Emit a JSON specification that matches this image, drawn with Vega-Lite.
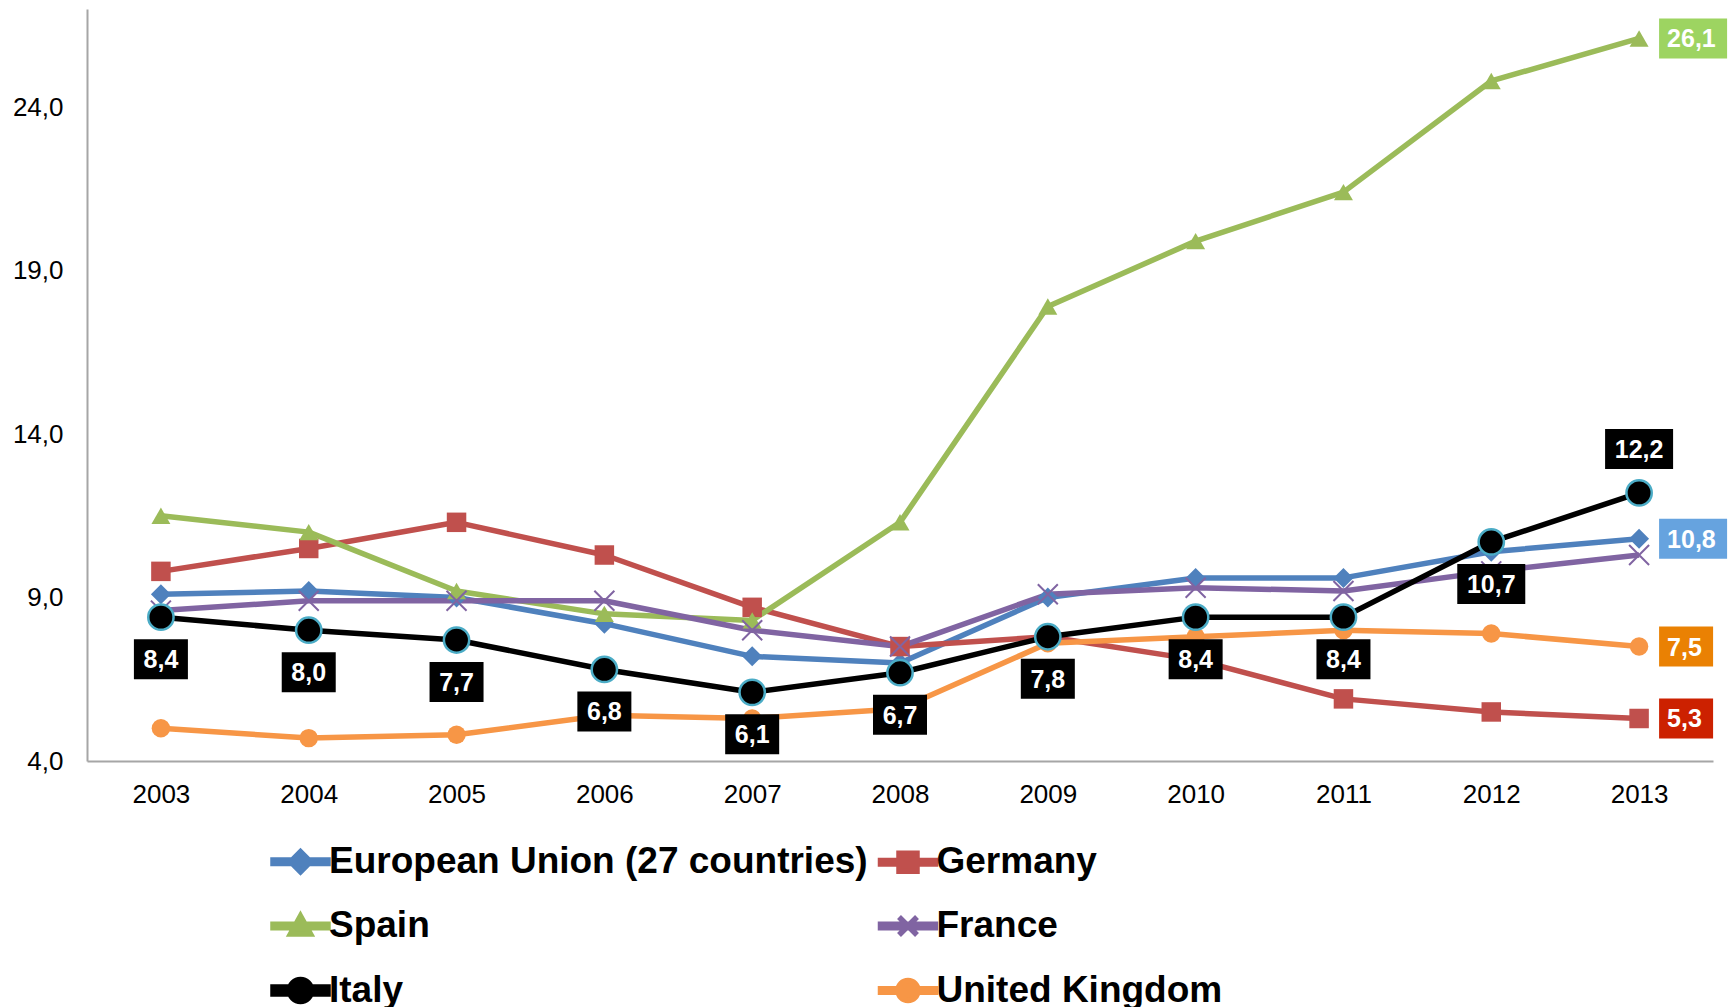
{
  "$schema": "https://vega.github.io/schema/vega-lite/v6.json",
  "width": 1626,
  "height": 752,
  "autosize": "none",
  "padding": {"left": 87, "top": 9, "right": 21, "bottom": 246},
  "config": {
    "locale": {"number": {"decimal": ",", "thousands": ".", "grouping": [3], "currency": ["", " €"]}},
    "view": {"stroke": null},
    "font": "Liberation Sans"
  },
  "data": {"values": [
    {"series": "European Union (27 countries)", "year": "2003", "value": 9.1},
    {"series": "European Union (27 countries)", "year": "2004", "value": 9.2},
    {"series": "European Union (27 countries)", "year": "2005", "value": 9.0},
    {"series": "European Union (27 countries)", "year": "2006", "value": 8.2},
    {"series": "European Union (27 countries)", "year": "2007", "value": 7.2},
    {"series": "European Union (27 countries)", "year": "2008", "value": 7.0},
    {"series": "European Union (27 countries)", "year": "2009", "value": 9.0},
    {"series": "European Union (27 countries)", "year": "2010", "value": 9.6},
    {"series": "European Union (27 countries)", "year": "2011", "value": 9.6},
    {"series": "European Union (27 countries)", "year": "2012", "value": 10.4},
    {"series": "European Union (27 countries)", "year": "2013", "value": 10.8},
    {"series": "Germany", "year": "2003", "value": 9.8},
    {"series": "Germany", "year": "2004", "value": 10.5},
    {"series": "Germany", "year": "2005", "value": 11.3},
    {"series": "Germany", "year": "2006", "value": 10.3},
    {"series": "Germany", "year": "2007", "value": 8.7},
    {"series": "Germany", "year": "2008", "value": 7.5},
    {"series": "Germany", "year": "2009", "value": 7.8},
    {"series": "Germany", "year": "2010", "value": 7.1},
    {"series": "Germany", "year": "2011", "value": 5.9},
    {"series": "Germany", "year": "2012", "value": 5.5},
    {"series": "Germany", "year": "2013", "value": 5.3},
    {"series": "Spain", "year": "2003", "value": 11.5},
    {"series": "Spain", "year": "2004", "value": 11.0},
    {"series": "Spain", "year": "2005", "value": 9.2},
    {"series": "Spain", "year": "2006", "value": 8.5},
    {"series": "Spain", "year": "2007", "value": 8.3},
    {"series": "Spain", "year": "2008", "value": 11.3},
    {"series": "Spain", "year": "2009", "value": 17.9},
    {"series": "Spain", "year": "2010", "value": 19.9},
    {"series": "Spain", "year": "2011", "value": 21.4},
    {"series": "Spain", "year": "2012", "value": 24.8},
    {"series": "Spain", "year": "2013", "value": 26.1},
    {"series": "France", "year": "2003", "value": 8.6},
    {"series": "France", "year": "2004", "value": 8.9},
    {"series": "France", "year": "2005", "value": 8.9},
    {"series": "France", "year": "2006", "value": 8.9},
    {"series": "France", "year": "2007", "value": 8.0},
    {"series": "France", "year": "2008", "value": 7.5},
    {"series": "France", "year": "2009", "value": 9.1},
    {"series": "France", "year": "2010", "value": 9.3},
    {"series": "France", "year": "2011", "value": 9.2},
    {"series": "France", "year": "2012", "value": 9.8},
    {"series": "France", "year": "2013", "value": 10.3},
    {"series": "Italy", "year": "2003", "value": 8.4},
    {"series": "Italy", "year": "2004", "value": 8.0},
    {"series": "Italy", "year": "2005", "value": 7.7},
    {"series": "Italy", "year": "2006", "value": 6.8},
    {"series": "Italy", "year": "2007", "value": 6.1},
    {"series": "Italy", "year": "2008", "value": 6.7},
    {"series": "Italy", "year": "2009", "value": 7.8},
    {"series": "Italy", "year": "2010", "value": 8.4},
    {"series": "Italy", "year": "2011", "value": 8.4},
    {"series": "Italy", "year": "2012", "value": 10.7},
    {"series": "Italy", "year": "2013", "value": 12.2},
    {"series": "United Kingdom", "year": "2003", "value": 5.0},
    {"series": "United Kingdom", "year": "2004", "value": 4.7},
    {"series": "United Kingdom", "year": "2005", "value": 4.8},
    {"series": "United Kingdom", "year": "2006", "value": 5.4},
    {"series": "United Kingdom", "year": "2007", "value": 5.3},
    {"series": "United Kingdom", "year": "2008", "value": 5.6},
    {"series": "United Kingdom", "year": "2009", "value": 7.6},
    {"series": "United Kingdom", "year": "2010", "value": 7.8},
    {"series": "United Kingdom", "year": "2011", "value": 8.0},
    {"series": "United Kingdom", "year": "2012", "value": 7.9},
    {"series": "United Kingdom", "year": "2013", "value": 7.5}
  ]},
  "encoding": {
    "x": {"field": "year", "type": "ordinal", "title": null,
      "axis": {"labelAngle": 0, "ticks": false, "tickSize": 0, "grid": false, "domainColor": "#A6A6A6", "domainWidth": 2,
        "labelFont": "Liberation Sans", "labelFontSize": 26, "labelColor": "#000000", "labelPadding": 20}},
    "y": {"field": "value", "type": "quantitative", "title": null,
      "scale": {"domain": [4, 27], "nice": false, "zero": false},
      "axis": {"values": [4, 9, 14, 19, 24], "format": ".1f", "ticks": false, "tickSize": 0, "grid": false,
        "domainColor": "#A6A6A6", "domainWidth": 2, "labelFont": "Liberation Sans", "labelFontSize": 26,
        "labelColor": "#000000", "labelPadding": 24}}
  },
  "layer": [
    {
      "mark": {"type": "line", "strokeJoin": "round"},
      "encoding": {
        "color": {"field": "series", "type": "nominal",
          "scale": {"domain": ["European Union (27 countries)", "Germany", "Spain", "France", "Italy", "United Kingdom"],
                    "range": ["#4F81BD", "#C0504D", "#9BBB59", "#8064A2", "#000000", "#F79646"]},
          "legend": {
            "orient": "none", "legendX": 195, "legendY": 834, "title": null, "columns": 2, "direction": "horizontal",
            "symbolSize": 400, "labelFont": "Liberation Sans", "labelFontSize": 37, "labelFontWeight": "bold",
            "labelColor": "#000000", "labelOffset": 10, "labelLimit": 2000, "rowPadding": 21.5, "columnPadding": 1.5, "padding": 0,
            "encode": {"symbols": {"update": {
              "shape": {"signal": "datum.value === 'European Union (27 countries)' ? 'M-2.75,-0.18L2.75,-0.18L2.75,0.18L-2.75,0.18ZM0,-1L1,0L0,1L-1,0Z' : datum.value === 'Germany' ? 'M-2.75,-0.18L2.75,-0.18L2.75,0.18L-2.75,0.18ZM-0.9,-0.9L0.9,-0.9L0.9,0.9L-0.9,0.9Z' : datum.value === 'Spain' ? 'M-2.75,-0.18L2.75,-0.18L2.75,0.18L-2.75,0.18ZM0,-1L1,0.8L-1,0.8Z' : datum.value === 'France' ? 'M-2.75,-0.18L2.75,-0.18L2.75,0.18L-2.75,0.18ZM-0.9,-0.9L0.9,0.9M0.9,-0.9L-0.9,0.9' : datum.value === 'Italy' ? 'M-2.75,-0.35L2.75,-0.35L2.75,0.35L-2.75,0.35ZM-1.1,0A1.1,1.1 0 1,1 1.1,0A1.1,1.1 0 1,1 -1.1,0Z' : 'M-2.75,-0.18L2.75,-0.18L2.75,0.18L-2.75,0.18ZM-1,0A1,1 0 1,1 1,0A1,1 0 1,1 -1,0Z'"},
              "fill": {"signal": "scale('color', datum.value)"},
              "stroke": {"signal": "datum.value === 'Italy' ? '#000000' : scale('color', datum.value)"},
              "strokeWidth": {"value": 2},
              "opacity": {"value": 1}
            }}}
          }},
        "strokeWidth": {"field": "series", "type": "nominal",
          "scale": {"domain": ["European Union (27 countries)", "Germany", "Spain", "France", "Italy", "United Kingdom"],
                    "range": [5.5, 5.5, 5.5, 5.5, 9, 5.5]}, "legend": null}
      }
    },
    {
      "transform": [{"filter": {"field": "series", "oneOf": ["European Union (27 countries)", "Germany", "Spain", "United Kingdom"]}}],
      "mark": {"type": "point", "filled": true, "opacity": 1, "strokeWidth": 0},
      "encoding": {
        "color": {"field": "series", "type": "nominal"},
        "shape": {"field": "series", "type": "nominal",
          "scale": {"domain": ["European Union (27 countries)", "Germany", "Spain", "United Kingdom"],
                    "range": ["diamond", "square", "triangle-up", "circle"]}, "legend": null},
        "size": {"field": "series", "type": "nominal",
          "scale": {"domain": ["European Union (27 countries)", "Germany", "Spain", "United Kingdom"],
                    "range": [400, 340, 440, 420]}, "legend": null}
      }
    },
    {
      "transform": [{"filter": "datum.series === 'France'"}],
      "mark": {"type": "point", "filled": false, "opacity": 1, "strokeWidth": 2, "shape": "M-1,-1L1,1M1,-1L-1,1", "size": 400},
      "encoding": {"color": {"field": "series", "type": "nominal"}}
    },
    {
      "transform": [{"filter": "datum.series === 'Italy'"}],
      "mark": {"type": "point", "filled": true, "opacity": 1, "fill": "#000000", "stroke": "#4BACC6", "strokeWidth": 2.5, "shape": "circle", "size": 640}
    },
    {
      "transform": [{"filter": "datum.series === 'Italy' && datum.year !== '2013'"}],
      "mark": {"type": "point", "filled": true, "opacity": 1, "fill": "#000000", "strokeWidth": 0, "size": 1600, "yOffset": 42},
      "encoding": {"shape": {"condition": {"test": "datum.value >= 10", "value": "M-1.7,-1L1.7,-1L1.7,1L-1.7,1Z"}, "value": "M-1.35,-1L1.35,-1L1.35,1L-1.35,1Z"}}
    },
    {
      "transform": [{"filter": "datum.series === 'Italy' && datum.year !== '2013'"}],
      "mark": {"type": "text", "color": "#FFFFFF", "font": "Liberation Sans", "fontSize": 25, "fontWeight": "bold", "align": "center", "baseline": "middle", "yOffset": 43},
      "encoding": {"text": {"field": "value", "type": "quantitative", "format": ".1f"}}
    },
    {
      "transform": [{"filter": "datum.series === 'Italy' && datum.year === '2013'"}],
      "mark": {"type": "point", "filled": true, "opacity": 1, "fill": "#000000", "strokeWidth": 0, "size": 1600, "yOffset": -44, "shape": "M-1.7,-1L1.7,-1L1.7,1L-1.7,1Z"}
    },
    {
      "transform": [{"filter": "datum.series === 'Italy' && datum.year === '2013'"}],
      "mark": {"type": "text", "color": "#FFFFFF", "font": "Liberation Sans", "fontSize": 25, "fontWeight": "bold", "align": "center", "baseline": "middle", "yOffset": -43},
      "encoding": {"text": {"field": "value", "type": "quantitative", "format": ".1f"}}
    },
    {
      "transform": [{"filter": "datum.year === '2013' && datum.series !== 'Italy' && datum.series !== 'France'"}],
      "mark": {"type": "point", "filled": true, "opacity": 1, "strokeWidth": 0, "size": 1600},
      "encoding": {
        "shape": {"condition": {"test": "datum.value >= 10", "value": "M1,-1L4.4,-1L4.4,1L1,1Z"}, "value": "M1,-1L3.7,-1L3.7,1L1,1Z"},
        "fill": {"field": "series", "type": "nominal",
          "scale": {"domain": ["European Union (27 countries)", "Germany", "Spain", "United Kingdom"],
                    "range": ["#66A3DF", "#CC2100", "#9DD461", "#EA8103"]}, "legend": null}
      }
    },
    {
      "transform": [{"filter": "datum.year === '2013' && datum.series !== 'Italy' && datum.series !== 'France'"}],
      "mark": {"type": "text", "color": "#FFFFFF", "font": "Liberation Sans", "fontSize": 25, "fontWeight": "bold", "align": "left", "baseline": "middle", "xOffset": 28, "yOffset": 1},
      "encoding": {"text": {"field": "value", "type": "quantitative", "format": ".1f"}}
    }
  ]
}
